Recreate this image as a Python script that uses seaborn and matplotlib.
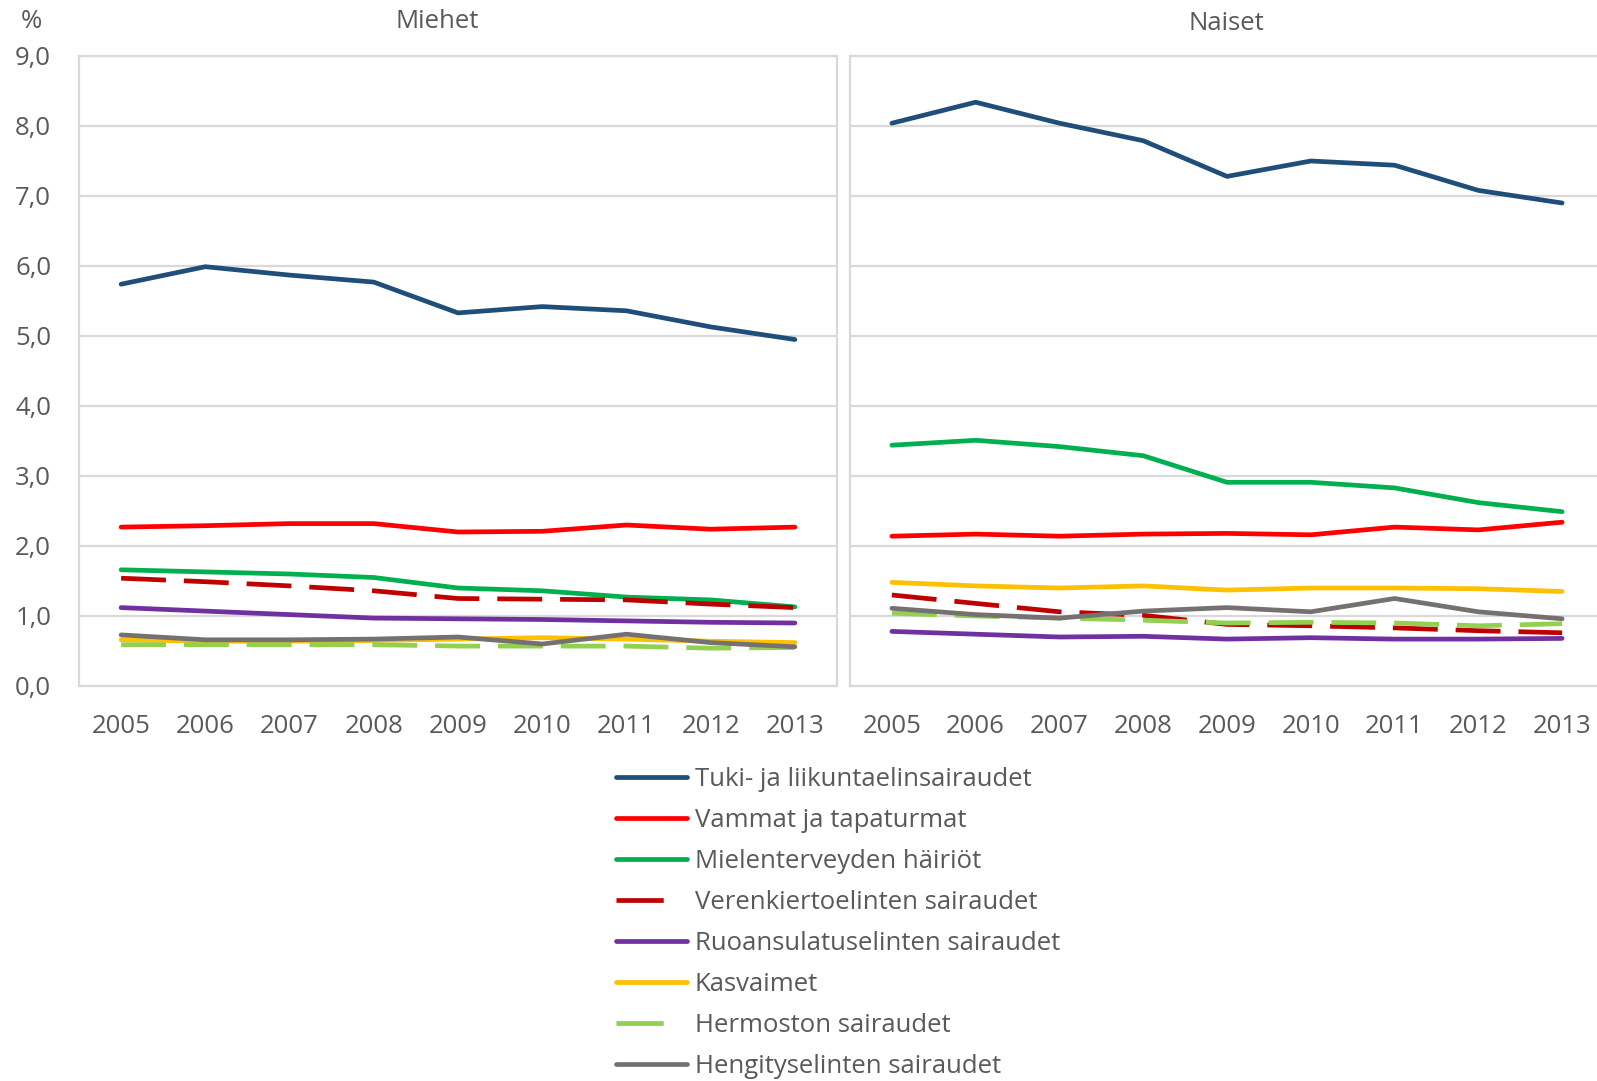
import numpy as np
import pandas as pd
import seaborn as sns
import matplotlib.pyplot as plt
from matplotlib.lines import Line2D

# Sairauspoissaolojen osuus (%) pääsairausryhmittäin, 2005–2013
years = [2005, 2006, 2007, 2008, 2009, 2010, 2011, 2012, 2013]

categories = [
    "Tuki- ja liikuntaelinsairaudet",
    "Vammat ja tapaturmat",
    "Mielenterveyden häiriöt",
    "Verenkiertoelinten sairaudet",
    "Ruoansulatuselinten sairaudet",
    "Kasvaimet",
    "Hermoston sairaudet",
    "Hengityselinten sairaudet",
]

# Miehet
men_tuki = [5.74, 5.99, 5.87, 5.77, 5.33, 5.42, 5.36, 5.13, 4.95]
men_vammat = [2.27, 2.29, 2.32, 2.32, 2.20, 2.21, 2.30, 2.24, 2.27]
men_mieli = [1.66, 1.63, 1.60, 1.55, 1.40, 1.36, 1.27, 1.23, 1.13]
men_veren = [1.54, 1.49, 1.43, 1.36, 1.25, 1.24, 1.23, 1.17, 1.12]
men_ruoans = [1.12, 1.07, 1.02, 0.97, 0.96, 0.95, 0.93, 0.91, 0.90]
men_kasvaimet = [0.66, 0.64, 0.64, 0.65, 0.67, 0.69, 0.67, 0.64, 0.62]
men_hermosto = [0.59, 0.59, 0.59, 0.59, 0.57, 0.57, 0.57, 0.54, 0.55]
men_hengitys = [0.73, 0.66, 0.66, 0.67, 0.70, 0.60, 0.74, 0.62, 0.56]

# Naiset
women_tuki = [8.04, 8.34, 8.04, 7.79, 7.28, 7.50, 7.44, 7.08, 6.90]
women_vammat = [2.14, 2.17, 2.14, 2.17, 2.18, 2.16, 2.27, 2.23, 2.34]
women_mieli = [3.44, 3.51, 3.42, 3.29, 2.91, 2.91, 2.83, 2.62, 2.49]
women_veren = [1.30, 1.18, 1.06, 1.01, 0.88, 0.86, 0.83, 0.79, 0.76]
women_ruoans = [0.78, 0.74, 0.70, 0.71, 0.67, 0.69, 0.67, 0.67, 0.68]
women_kasvaimet = [1.48, 1.43, 1.40, 1.43, 1.37, 1.40, 1.40, 1.39, 1.35]
women_hermosto = [1.04, 1.00, 0.97, 0.94, 0.90, 0.91, 0.90, 0.86, 0.89]
women_hengitys = [1.11, 1.02, 0.97, 1.07, 1.12, 1.06, 1.25, 1.06, 0.96]

panels = ["Miehet", "Naiset"]

series = {
    "Miehet": [men_tuki, men_vammat, men_mieli, men_veren,
               men_ruoans, men_kasvaimet, men_hermosto, men_hengitys],
    "Naiset": [women_tuki, women_vammat, women_mieli, women_veren,
               women_ruoans, women_kasvaimet, women_hermosto, women_hengitys],
}

rows = []
for panel in panels:
    for cat, vals in zip(categories, series[panel]):
        for yr, v in zip(years, vals):
            rows.append({"ryhmä": panel, "sairaus": cat, "vuosi": yr, "osuus": v})
df = pd.DataFrame(rows)

colors = ["#1f4e79", "#ff0000", "#00b050", "#c00000",
          "#7030a0", "#ffc000", "#92d050", "#767171"]
palette = dict(zip(categories, colors))
dashed = {"Verenkiertoelinten sairaudet", "Hermoston sairaudet"}
dash_map = {c: ((9.5, 3.8) if c in dashed else "") for c in categories}

sns.set_theme(style="white")
plt.rcParams["font.family"] = ["Open Sans", "DejaVu Sans"]
text_color = "#595959"
grid_color = "#d9d9d9"
LW = 3.4
FS = 18.5

W, H = 1597, 1081
fig = plt.figure(figsize=(W / 100, H / 100), dpi=100)

ax_left = fig.add_axes([79 / W, 1 - 686 / H, (837 - 79) / W, (686 - 56) / H])
ax_right = fig.add_axes([850 / W, 1 - 686 / H, (1604 - 850) / W, (686 - 56) / H])

for ax, panel in zip([ax_left, ax_right], panels):
    sub = df[df["ryhmä"] == panel]
    sns.lineplot(data=sub, x="vuosi", y="osuus", hue="sairaus", style="sairaus",
                 hue_order=categories, style_order=categories,
                 palette=palette, dashes=dash_map, linewidth=LW,
                 errorbar=None, legend=False, ax=ax,
                 solid_capstyle="round", dash_capstyle="butt")
    ax.set_xlim(2004.5, 2013.5)
    ax.set_ylim(0, 9)
    ax.set_xticks(years)
    ax.set_xticklabels([str(y) for y in years])
    ax.set_yticks(range(0, 10))
    ax.yaxis.grid(True, color=grid_color, linewidth=1.6)
    ax.xaxis.grid(False)
    ax.set_axisbelow(True)
    for sp in ax.spines.values():
        sp.set_color(grid_color)
        sp.set_linewidth(1.6)
    ax.set_xlabel("")
    ax.set_ylabel("")
    ax.tick_params(axis="both", length=0, labelsize=FS, labelcolor=text_color)
    ax.tick_params(axis="x", pad=20)

ax_left.set_yticklabels([f"{v},0" for v in range(0, 10)])
ax_left.tick_params(axis="y", pad=20)
ax_right.tick_params(axis="y", labelleft=False)

fig.text(437 / W, 1 - 21 / H, "Miehet", ha="center", va="center",
         fontsize=FS, color=text_color)
fig.text(1226 / W, 1 - 24 / H, "Naiset", ha="center", va="center",
         fontsize=FS, color=text_color)
fig.text(31 / W, 1 - 21 / H, "%", ha="center", va="center",
         fontsize=FS, color=text_color)

# Legend keys: dashed series show a single dash followed by a gap
handles = []
for c in categories:
    handles.append(Line2D([0], [0], color=palette[c], linewidth=LW,
                          linestyle=(0, (10, 8)) if c in dashed else "-",
                          solid_capstyle="round", dash_capstyle="butt"))
leg = fig.legend(handles, categories, loc="upper left",
                 bbox_to_anchor=(606 / W, 1 - 757 / H), frameon=False,
                 fontsize=FS, handlelength=2.75, handletextpad=0.3,
                 labelspacing=0.62, borderaxespad=0)
for t in leg.get_texts():
    t.set_color(text_color)

fig.savefig("out.png", dpi=100)
